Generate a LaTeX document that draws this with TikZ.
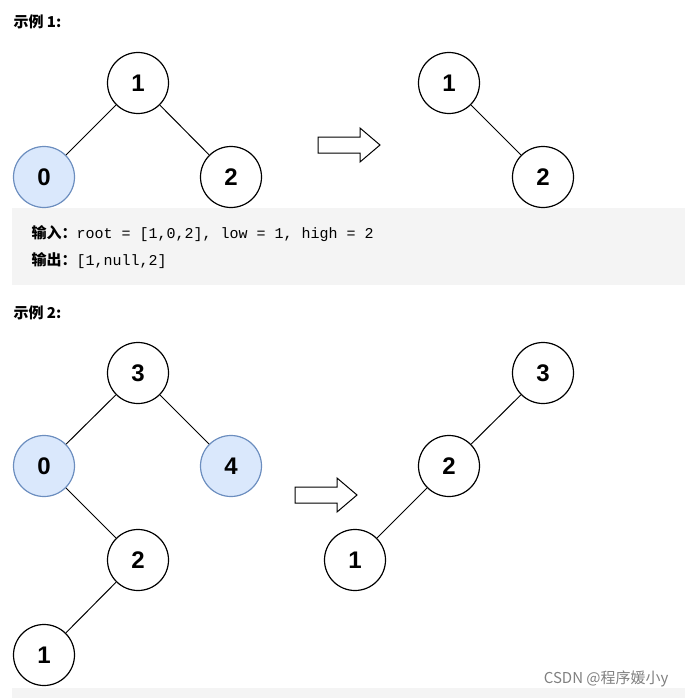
\documentclass[tikz,border=0pt]{standalone}
\usepackage{fontspec}
\setmainfont{Liberation Sans}
\setmonofont{Liberation Mono}
\newfontfamily\cjk{Noto Sans CJK SC}
\definecolor{hitfill}{HTML}{DAE8FC}
\definecolor{hitdraw}{HTML}{6C8EBF}
\begin{document}
\begin{tikzpicture}[x=1pt,y=-1pt]
\tikzset{
  tnode/.style={circle, draw=black, line width=1.2pt, minimum size=61pt, inner sep=0pt, font=\fontsize{24}{24}\selectfont\bfseries},
  hit/.style={tnode, fill=hitfill, draw=hitdraw},
  edge/.style={black, line width=1pt},
  blockarrow/.style={draw=black, line width=1pt, fill=white}
}
\useasboundingbox (0,0) rectangle (685,698);
\fill[gray!9] (12,208) rectangle (685,285);
\fill[gray!9] (12,688) rectangle (685,698);
% example 1
\node[anchor=west, font=\cjk\bfseries\fontsize{15}{15}\selectfont] (head1) at (10,22) {示例 1:};
\node[tnode] (a1) at (138,83) {1};
\node[hit] (a0) at (44,177) {0};
\node[tnode] (a2) at (231,177) {2};
\draw[edge] (a1) -- (a0);
\draw[edge] (a1) -- (a2);
\draw[blockarrow] (318,137) -- (360,137) -- (360,128) -- (380,145) -- (360,162) -- (360,153) -- (318,153) -- cycle;
\node[tnode] (b1) at (449,83) {1};
\node[tnode] (b2) at (543,177) {2};
\draw[edge] (b1) -- (b2);
\node[anchor=west, font=\fontsize{15}{15}\selectfont] (in1) at (28,234) {{\cjk\bfseries 输入：}\texttt{root = [1,0,2], low = 1, high = 2}};
\node[anchor=west, font=\fontsize{15}{15}\selectfont] (out1) at (28,261) {{\cjk\bfseries 输出：}\texttt{[1,null,2]}};
% example 2
\node[anchor=west, font=\cjk\bfseries\fontsize{15}{15}\selectfont] (head2) at (10,313) {示例 2:};
\node[tnode] (c3) at (138,373) {3};
\node[hit] (c0) at (44,466) {0};
\node[hit] (c4) at (231,466) {4};
\node[tnode] (c2) at (138,560) {2};
\node[tnode] (c1) at (44,655) {1};
\draw[edge] (c3) -- (c0);
\draw[edge] (c3) -- (c4);
\draw[edge] (c0) -- (c2);
\draw[edge] (c2) -- (c1);
\draw[blockarrow] (295,487) -- (337,487) -- (337,478) -- (357,495) -- (337,512) -- (337,503) -- (295,503) -- cycle;
\node[tnode] (d3) at (543,373) {3};
\node[tnode] (d2) at (449,466) {2};
\node[tnode] (d1) at (355,560) {1};
\draw[edge] (d3) -- (d2);
\draw[edge] (d2) -- (d1);
\node[anchor=east, text=gray, font=\cjk\fontsize{15}{15}\selectfont] (mark) at (672,679) {CSDN @程序媛小y};
\end{tikzpicture}
\end{document}
